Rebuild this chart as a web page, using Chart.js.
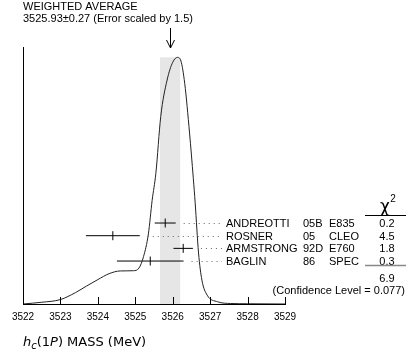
<!DOCTYPE html>
<html>
<head>
<meta charset="utf-8">
<script src="https://cdn.jsdelivr.net/npm/chart.js@4.4.0/dist/chart.umd.min.js"></script>
<style>
    html, body { margin: 0; padding: 0; background: #fff; }
    #wrap { width: 415px; height: 354px; }
</style>
</head>
<body>
<div id="wrap"><canvas id="ideogram" width="415" height="354"></canvas></div>
<script>
// tick labels of the mass axis (MeV)
const massTicks = [3522, 3523, 3524, 3525, 3526, 3527, 3528, 3529];

// ideogram curve (mass, relative density)
const curveMass = [3522.0, 3522.5, 3523.0, 3523.4, 3523.7, 3524.0, 3524.3, 3524.6, 3524.95, 3525.1,
    3525.22, 3525.35, 3525.45, 3525.55, 3525.68, 3525.85, 3526.0, 3526.13, 3526.22, 3526.32,
    3526.45, 3526.55, 3526.6, 3526.69, 3526.78, 3526.92, 3527.2, 3527.55, 3528.0, 3529.0];
const curveDensity = [0.0, 0.007, 0.018, 0.046, 0.073, 0.099, 0.123, 0.134, 0.135, 0.146,
    0.192, 0.284, 0.42, 0.53, 0.76, 0.908, 0.98, 1.0, 0.985, 0.895,
    0.693, 0.51, 0.41, 0.207, 0.097, 0.036, 0.009, 0.002, 0.001, 0.0];

// measurements
const authors = ['ANDREOTTI', 'ROSNER', 'ARMSTRONG', 'BAGLIN'];
const years = ['05B', '05', '92D', '86'];
const experiments = ['E835', 'CLEO', 'E760', 'SPEC'];
const values = [3525.8, 3524.4, 3526.28, 3525.4];
const errors = [0.28, 0.72, 0.26, 0.89];
const chi2 = ['0.2', '4.5', '1.8', '0.3'];
const chi2Total = '6.9';
const confidenceLevel = '0.077';

// weighted average
const average = 3525.93;
const averageError = 0.27;
const errorScale = 1.5;

class Ideogram {
    constructor() {
        this.chart = null;
        this.initChart();
    }

    buildDatasets() {
        const sets = [{
            type: 'line',
            data: curveMass.map((m, i) => ({ x: m, y: curveDensity[i] })),
            borderColor: '#222',
            borderWidth: 1,
            pointRadius: 0,
            cubicInterpolationMode: 'monotone',
            fill: false,
            yAxisID: 'y'
        }];
        values.forEach((v, i) => {
            sets.push({
                type: 'line',
                data: [{ x: v - errors[i], y: i }, { x: v + errors[i], y: i }],
                borderColor: '#000',
                borderWidth: 1,
                pointRadius: 0,
                yAxisID: 'yRow'
            });
        });
        sets.push({
            type: 'scatter',
            data: values.map((v, i) => ({ x: v, y: i })),
            pointStyle: 'line',
            rotation: 90,
            pointRadius: 4.5,
            borderColor: '#000',
            borderWidth: 1,
            yAxisID: 'yRow'
        });
        return sets;
    }

    initChart() {
        Chart.defaults.font.family = "'Liberation Sans', Arial, sans-serif";
        Chart.defaults.color = '#000';
        const ctx = document.getElementById('ideogram').getContext('2d');
        this.chart = new Chart(ctx, {
            type: 'line',
            data: { datasets: this.buildDatasets() },
            options: {
                responsive: false,
                animation: false,
                layout: { padding: { left: 23, right: 130, top: 47, bottom: 0 } },
                scales: {
                    x: {
                        type: 'linear',
                        min: massTicks[0],
                        max: massTicks[massTicks.length - 1],
                        afterFit: (s) => { s.height = 50; },
                        afterBuildTicks: (s) => { s.ticks = massTicks.map(v => ({ value: v })); },
                        grid: { display: false, drawTicks: false },
                        border: { display: true, color: '#000', width: 1 },
                        ticks: { padding: 7, font: { size: 10 }, callback: (v) => String(v) }
                    },
                    y: { display: false, min: 0, max: 1.042 },
                    yRow: { axis: 'y', type: 'linear', display: false, reverse: true, min: -13.89, max: 6.39 }
                },
                plugins: { legend: { display: false }, tooltip: { enabled: false } }
            },
            plugins: [this.decorations()]
        });
    }

    decorations() {
        return {
            id: 'decorations',
            beforeDatasetsDraw(chart) {
                const { ctx, chartArea, scales: { x, y } } = chart;
                // error band of the weighted average
                const x0 = x.getPixelForValue(average - averageError);
                const x1 = x.getPixelForValue(average + averageError);
                const top = y.getPixelForValue(1.0);
                ctx.save();
                ctx.fillStyle = '#e6e6e6';
                ctx.fillRect(x0, top, x1 - x0, chartArea.bottom - top);
                ctx.restore();
            },
            afterDraw(chart) {
                const { ctx, chartArea, scales: { x, yRow } } = chart;
                ctx.save();
                // left frame line and inward ticks
                ctx.strokeStyle = '#000';
                ctx.lineWidth = 1;
                ctx.beginPath();
                ctx.moveTo(chartArea.left + 0.5, chartArea.top);
                ctx.lineTo(chartArea.left + 0.5, chartArea.bottom);
                massTicks.forEach(t => {
                    const px = Math.round(x.getPixelForValue(t)) + 0.5;
                    ctx.moveTo(px, chartArea.bottom);
                    ctx.lineTo(px, chartArea.bottom - 7);
                });
                ctx.stroke();

                // arrow at the average
                const ax = Math.round(x.getPixelForValue(average)) + 0.5;
                ctx.beginPath();
                ctx.moveTo(ax, 28);
                ctx.lineTo(ax, 48);
                ctx.moveTo(ax - 4, 40);
                ctx.lineTo(ax, 48);
                ctx.lineTo(ax + 4, 40);
                ctx.stroke();

                // header
                ctx.fillStyle = '#000';
                ctx.font = "11px 'Liberation Sans'";
                ctx.textBaseline = 'middle';
                ctx.textAlign = 'left';
                ctx.fillText('WEIGHTED AVERAGE', 23, 7);
                ctx.fillText(`${average.toFixed(2)}\u00b1${averageError.toFixed(2)} (Error scaled by ${errorScale})`, 23, 19);

                // dotted leaders, labels and chi2 column
                authors.forEach((name, i) => {
                    const py = Math.round(yRow.getPixelForValue(i)) + 0.5;
                    const start = x.getPixelForValue(values[i] + errors[i]) + 8;
                    ctx.save();
                    ctx.strokeStyle = '#666';
                    ctx.setLineDash([1, 4]);
                    ctx.beginPath();
                    ctx.moveTo(start, py);
                    ctx.lineTo(222, py);
                    ctx.stroke();
                    ctx.restore();
                    ctx.textAlign = 'left';
                    ctx.fillText(name, 226, py);
                    ctx.fillText(years[i], 303, py);
                    ctx.fillText(experiments[i], 329, py);
                    ctx.textAlign = 'center';
                    ctx.fillText(chi2[i], 387, py);
                });
                ctx.textAlign = 'center';
                ctx.fillText(chi2Total, 387, yRow.getPixelForValue(4.4));
                ctx.textAlign = 'right';
                ctx.fillText(`(Confidence Level = ${confidenceLevel})`, 405, yRow.getPixelForValue(5.35));

                // chi2 header and rules
                ctx.textAlign = 'center';
                ctx.font = "17px 'DejaVu Sans'";
                ctx.fillText('\u03c7', 385, yRow.getPixelForValue(-1.2));
                ctx.font = "10px 'Liberation Sans'";
                ctx.fillText('2', 393, yRow.getPixelForValue(-1.85));
                ctx.strokeStyle = '#000';
                ctx.beginPath();
                const hy = Math.round(yRow.getPixelForValue(-0.62)) + 0.5;
                ctx.moveTo(365, hy);
                ctx.lineTo(406, hy);
                ctx.stroke();
                ctx.strokeStyle = '#888';
                ctx.lineWidth = 1.5;
                ctx.beginPath();
                const gy = yRow.getPixelForValue(3.35);
                ctx.moveTo(365, gy);
                ctx.lineTo(406, gy);
                ctx.stroke();

                // axis title: h_c(1P) MASS (MeV)
                const ty = 343;
                let tx = 23;
                const part = (txt, font, dy) => {
                    ctx.font = font;
                    ctx.textAlign = 'left';
                    ctx.fillText(txt, tx, ty + dy);
                    tx += ctx.measureText(txt).width;
                };
                part('h', "italic 13px 'DejaVu Sans'", 0);
                part('c', "italic 10px 'DejaVu Sans'", 3);
                part('(1', "13px 'DejaVu Sans'", 0);
                part('P', "italic 13px 'DejaVu Sans'", 0);
                part(') MASS (MeV)', "13px 'DejaVu Sans'", 0);
                ctx.restore();
            }
        };
    }
}

document.addEventListener('DOMContentLoaded', () => {
    new Ideogram();
});
</script>
</body>
</html>
